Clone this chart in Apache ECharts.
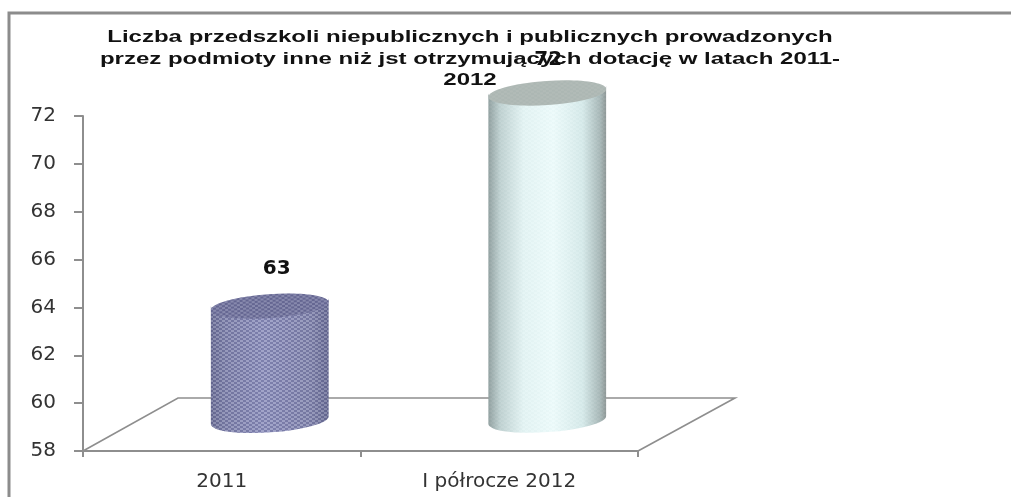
<!DOCTYPE html>
<html>
<head>
<meta charset="utf-8">
<title>Przedszkola</title>
<style>
	html, body { margin: 0; padding: 0; background: #fff; }
	#main { width: 1011px; height: 497px; }
</style>
<script src="https://cdn.jsdelivr.net/npm/echarts@6/dist/echarts.min.js"></script>
</head>
<body>
<div id="main"></div>
<script>
var categories = ['2011', 'I półrocze 2012'];
var values = [63, 72];
var yTicks = [58, 60, 62, 64, 66, 68, 70, 72];
var titleText = 'Liczba przedszkoli niepublicznych i publicznych prowadzonych\nprzez podmioty inne niż jst otrzymujących dotację w latach 2011-\n2012';

// floor depth of the fake 3d plot
var depthX = 95;
var depthY = 53;
var labelShift = [[7, -37], [1, -33]];

var makePattern = function (dark, light) {
	var c = document.createElement('canvas');
	c.width = 6;
	c.height = 4;
	var ctx = c.getContext('2d');
	for (var y = 0; y < 4; y++) {
		for (var x = 0; x < 6; x++) {
			var k = (x + (y < 2 ? 3 : 0)) % 6;
			ctx.fillStyle = k < 3 ? dark : light;
			ctx.fillRect(x, y, 1, 1);
		}
	}
	return { image: c, repeat: 'repeat' };
};

var hGradient = function (stops) {
	return {
		type: 'linear', x: 0, y: 0, x2: 1, y2: 0,
		colorStops: stops
	};
};

var looks = [
	{
		body: hGradient([
			{ offset: 0, color: '#6f7299' },
			{ offset: 0.12, color: '#8285ae' },
			{ offset: 0.45, color: '#9093c0' },
			{ offset: 0.85, color: '#8588b0' },
			{ offset: 1, color: '#6c6f97' }
		]),
		top: '#71739e',
		pattern: makePattern('rgba(50,52,95,0.2)', 'rgba(255,255,255,0.16)')
	},
	{
		body: hGradient([
			{ offset: 0, color: '#8f9e9e' },
			{ offset: 0.1, color: '#bfd1d1' },
			{ offset: 0.3, color: '#e4f4f4' },
			{ offset: 0.55, color: '#edfbfb' },
			{ offset: 0.8, color: '#d6eaea' },
			{ offset: 0.95, color: '#a6b6b6' },
			{ offset: 1, color: '#8c9594' }
		]),
		top: '#adb7b3',
		pattern: makePattern('rgba(150,175,175,0.04)', 'rgba(255,255,255,0.06)')
	}
];

// cylinder width and ellipse shape
var rx = 59;
var ry = 12;
var tilt = 0.068;

var renderCylinder = function (params, api) {
	var i = api.value(0);
	var look = looks[i];
	var top = api.coord([i, api.value(1)]);
	var base = api.coord([i, 58]);
	var dy = rx * tilt;
	var deg = -tilt * 180 / Math.PI;
	var x0 = top[0] - rx;
	var x1 = top[0] + rx;
	var pathData = 'M' + x0 + ' ' + (top[1] + dy) +
		'L' + x0 + ' ' + (base[1] + dy) +
		'A' + rx + ' ' + ry + ' ' + deg + ' 0 0 ' + x1 + ' ' + (base[1] - dy) +
		'L' + x1 + ' ' + (top[1] - dy) +
		'A' + rx + ' ' + ry + ' ' + deg + ' 0 1 ' + x0 + ' ' + (top[1] + dy) + 'Z';
	var bounds = { x: x0, y: top[1] - ry - dy, width: rx * 2, height: base[1] - top[1] + 2 * (ry + dy) };
	var bodyShape = function () {
		return { pathData: pathData, x: bounds.x, y: bounds.y, width: bounds.width, height: bounds.height };
	};
	var topEllipse = function (fill) {
		return {
			type: 'ellipse',
			shape: { cx: top[0], cy: top[1], rx: rx, ry: ry },
			originX: top[0],
			originY: top[1],
			rotation: tilt,
			style: { fill: fill }
		};
	};
	return {
		type: 'group',
		children: [
			{ type: 'path', shape: bodyShape(), style: { fill: look.body } },
			{ type: 'path', shape: bodyShape(), style: { fill: look.pattern } },
			topEllipse(look.top),
			topEllipse(look.pattern),
			{
				type: 'text',
				x: top[0] + labelShift[i][0],
				y: top[1] + labelShift[i][1],
				style: {
					text: String(api.value(1)),
					fill: '#111',
					font: 'bold 20px "DejaVu Sans"',
					align: 'center',
					verticalAlign: 'middle'
				}
			}
		]
	};
};

var renderFloor = function (params, api) {
	var cs = params.coordSys;
	var bottom = cs.y + cs.height;
	var right = cs.x + cs.width;
	return {
		type: 'polyline',
		shape: {
			points: [
				[cs.x, bottom],
				[cs.x + depthX, bottom - depthY],
				[right + depthX + 2, bottom - depthY],
				[right, bottom]
			]
		},
		style: { stroke: '#8e8e8e', lineWidth: 1.6, fill: null }
	};
};

var chartDom = document.getElementById('main');
var myChart = echarts.init(chartDom, null, { renderer: 'canvas', devicePixelRatio: 1 });

var axisLine = { show: true, lineStyle: { color: '#8e8e8e', width: 2 } };

var option = {
	backgroundColor: '#fff',
	animation: false,
	graphic: [
		{
			type: 'polyline',
			silent: true,
			shape: { points: [[9, 497], [9, 13], [1011, 13]] },
			style: { stroke: '#8c8c8c', lineWidth: 3, fill: null }
		},
		{
			// the title in the picture is stretched sideways, hence scaleX
			type: 'text',
			silent: true,
			z: 10,
			x: 470,
			y: 27,
			scaleX: 1.5,
			style: {
				text: titleText,
				fill: '#111',
				font: 'bold 16px "Liberation Sans"',
				lineHeight: 21.5,
				align: 'center'
			}
		}
	],
	grid: [
		{ left: 83, top: 116, width: 555, height: 335 },
		// same plot pushed back to the middle of the floor, cylinders stand on it
		{ left: 131, top: 93, width: 555, height: 331.5 }
	],
	xAxis: [
		{
			type: 'category',
			gridIndex: 0,
			data: categories,
			axisLine: axisLine,
			axisTick: { show: true, length: 6, alignWithLabel: false, lineStyle: { color: '#8e8e8e', width: 2 } },
			axisLabel: { color: '#333', fontFamily: 'DejaVu Sans', fontSize: 20, margin: 21 }
		},
		{ type: 'category', gridIndex: 1, data: categories, show: false }
	],
	yAxis: [
		{
			type: 'value',
			gridIndex: 0,
			min: yTicks[0],
			max: yTicks[yTicks.length - 1],
			interval: 2,
			axisLine: axisLine,
			axisTick: { show: true, length: 9, lineStyle: { color: '#8e8e8e', width: 2 } },
			splitLine: { show: false },
			axisLabel: { color: '#333', fontFamily: 'DejaVu Sans', fontSize: 20, margin: 27 }
		},
		{ type: 'value', gridIndex: 1, min: yTicks[0], max: yTicks[yTicks.length - 1], show: false, splitLine: { show: false } }
	],
	series: [
		{
			type: 'custom',
			xAxisIndex: 0,
			yAxisIndex: 0,
			z: 1,
			silent: true,
			renderItem: renderFloor,
			data: [[0, yTicks[0]]]
		},
		{
			type: 'custom',
			xAxisIndex: 1,
			yAxisIndex: 1,
			z: 3,
			silent: true,
			clip: false,
			renderItem: renderCylinder,
			encode: { x: 0, y: 1 },
			data: categories.map(function (c, i) { return [i, values[i]]; })
		}
	]
};

option && myChart.setOption(option);
</script>
</body>
</html>
